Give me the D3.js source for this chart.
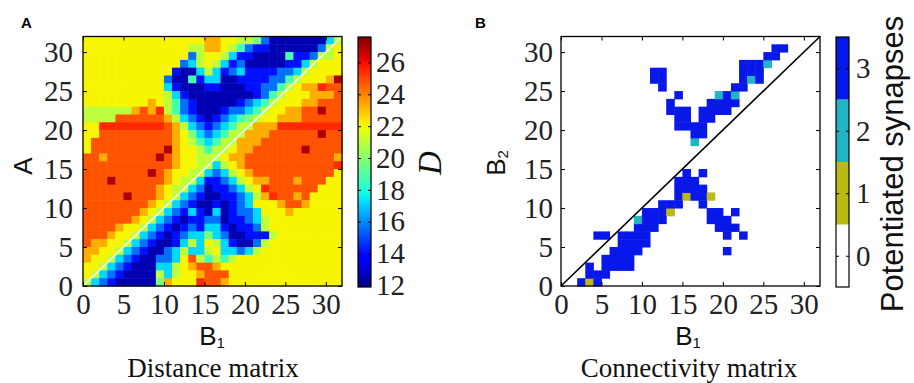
<!DOCTYPE html>
<html>
<head>
<meta charset="utf-8">
<script src="https://cdn.jsdelivr.net/npm/d3@7"></script>
<style>
  body { margin: 0; background: #ffffff; }
  svg { display: block; background: #ffffff; }
</style>
</head>
<body>
<svg id="chart" width="914" height="383"></svg>
<script>
// ---- data ----
const gridSize = 32;
const axisTicks = [0, 5, 10, 15, 20, 25, 30];
const distanceTicks = [12, 14, 16, 18, 20, 22, 24, 26];
const distanceRange = [11.9, 27.6];
const synapseTicks = [0, 1, 2, 3];
const synapseColors = ["#ffffff", "#bcb814", "#22b4c4", "#0818e8"];

// colour levels used in the distance matrix (value of D)
const levelValues = { N: 12.6, B: 14.1, b: 15.6, C: 17.2, c: 18.7, g: 19.8, l: 21.0, Y: 22.1, y: 23.3, O: 24.8, R: 25.5, D: 27.0 };

// distance matrix, one string per row of A, top row (A = 31) first, columns B1 = 0..31
const distanceRows = [
  "YYYYYYYYYYYYYYYyyYYllgbNNNNNNNCl",
  "YYYYYYYYYYYYYllyyYlcbBBNNNNNNblY",
  "YYYYYYYYYYYYYblYYlCBBNNNNcBBbllY",
  "YYYYYYYYYYYYbClYlCBbNNNNNBBClYYY",
  "YYYYYYYYYYYBNNClCBbCBBBBbbClYYYY",
  "YYYYYYYYYYbNNcBCCNNBBBBbbclYYYyD",
  "YYYYYYYYYYCBNNNBBNNNBBbbclYyyROO",
  "YYYYYYYYYYlCBNNNNNNNNBbclYYYyyyO",
  "YYYYYYYYyYlcbBNNNNNBbCclYYYyyOOO",
  "llllllyOyRlcbBNNNBbbCclYYyyOODOO",
  "llllOOOOOOylCbBNBbCcglYYyyyOOOOO",
  "YYRRRRRRRROylCbBbCcllyyyRRRRRRRR",
  "YYOOOOOOOOOyYgCbCcllyyyOOOOOODOO",
  "YOOOOOOOOOOyYlcCcllyyyOOOOOOOOOO",
  "YOOOOOOOOODyYYlcllYyyOOOOOODOOOO",
  "OOyOOOOOODOyYYlllYyyOOOOOOOOOOOy",
  "OOOOOOOOOOOyYYllClYyOOOOOOOOOOOR",
  "OOOOOOOODOyYYllCbClYyOOOOOOOOOOY",
  "OOODOOOOOOyYllCBBbClYyyOOOyOOOYY",
  "OOOOOOOOOyYllCbNBBbClYROOOOOOYYY",
  "OOOOODOOOyYlCbBNNBBbClyROOyOYYYY",
  "OOOOOOOOyYlCbBNNBNBbCYYYyOOyYYYY",
  "OOOOOOOyYlCbBCBNCNBbbCYYYyYYYYYY",
  "OOOOOOyYlCbBNBBbbNBBbClYYYYYYYYY",
  "OOOOyYYlCbBNBbBCCBNBBblYYYYYYYYY",
  "OOOyYYlCbBNBbCCgCbNNBBBlYYYYYYYY",
  "OyyYYlCbBNNBClCYlCBNNblYYYYYYYYY",
  "yyYYlCbBNNbClCClYCCbClYYYYYYYYYY",
  "yYYlCbBNNbbCYOlclclYYYYYYYYYYYYY",
  "YYlCbBNNNCClYyOOyYYYYYYYYYYYYYYY",
  "YlCbBNNNNlClYYyOOOYYYYYYYYYYYYYY",
  "lCbBNNNNNgyYYYROOyYYYYYYYYYYYYYY"
];

// connectivity matrix: [B1, B2, potentiated synapses] for every non-empty cell
const synapseCells = [
  [2,0,3],[3,0,1],[4,0,3],
  [3,1,3],[4,1,3],[5,1,3],
  [3,2,3],[5,2,3],[6,2,3],[7,2,3],[8,2,3],
  [5,3,3],[6,3,3],[7,3,3],[8,3,3],
  [6,4,3],[7,4,3],[8,4,3],[9,4,3],[20,4,3],
  [7,5,3],[8,5,3],[9,5,3],[10,5,3],
  [4,6,3],[5,6,3],[7,6,3],[8,6,3],[9,6,3],[10,6,3],[20,6,3],[22,6,3],
  [9,7,3],[10,7,3],[11,7,3],[19,7,3],[20,7,3],[21,7,3],
  [9,8,2],[10,8,3],[11,8,3],[12,8,3],[18,8,3],[19,8,3],[20,8,3],
  [10,9,3],[11,9,3],[12,9,3],[13,9,1],[18,9,3],[19,9,3],[21,9,3],
  [12,10,3],[13,10,3],[14,10,3],[17,10,3],
  [14,11,3],[15,11,1],[16,11,3],[17,11,3],[18,11,1],
  [14,12,3],[15,12,3],[16,12,3],[17,12,3],
  [14,13,3],[15,13,3],[16,13,3],
  [15,14,3],[17,14,3],
  [16,18,2],
  [16,19,3],[17,19,3],
  [14,20,3],[15,20,3],[16,20,3],[17,20,3],
  [14,21,3],[15,21,3],[17,21,3],[18,21,3],
  [13,22,3],[14,22,3],[15,22,3],[17,22,3],[18,22,3],[19,22,3],[20,22,3],
  [13,23,3],[18,23,3],[19,23,3],[20,23,3],[21,23,3],
  [14,24,3],[19,24,2],[20,24,3],[21,24,2],
  [12,25,3],[21,25,3],[22,25,3],
  [11,26,3],[12,26,3],[22,26,3],[23,26,2],[24,26,3],
  [11,27,3],[12,27,3],[22,27,3],[23,27,3],[24,27,3],
  [22,28,3],[23,28,3],[24,28,3],[25,28,2],
  [25,29,3],[26,29,3],
  [26,30,3],[27,30,3]
];

// ---- drawing ----
const svg = d3.select("#chart");
const serif = '"Liberation Serif", "DejaVu Serif", serif';
const sans = '"Liberation Sans", Arial, sans-serif';
const tickFont = 29;
const plotTop = 36.5, plotBottom = 286;

// matplotlib "jet" segment data
const jetR = d3.scaleLinear().domain([0, 0.35, 0.66, 0.89, 1]).range([0, 0, 1, 1, 0.5]).clamp(true);
const jetG = d3.scaleLinear().domain([0, 0.125, 0.375, 0.64, 0.91, 1]).range([0, 0, 1, 1, 0, 0]).clamp(true);
const jetB = d3.scaleLinear().domain([0, 0.11, 0.34, 0.65, 1]).range([0.5, 1, 1, 0, 0]).clamp(true);
function jet(t) {
  return d3.rgb(jetR(t) * 255, jetG(t) * 255, jetB(t) * 255).formatHex();
}
const distanceNorm = d3.scaleLinear().domain(distanceRange).range([0, 1]).clamp(true);

function styleTickText(sel) {
  sel.selectAll("text")
    .style("font-family", serif)
    .style("font-size", tickFont + "px")
    .style("fill", "#222");
  sel.selectAll("line").attr("stroke", "#000");
  sel.select(".domain").remove();
}

function drawFrame(x, y, labelPad) {
  const g = svg.append("g");
  g.append("g").attr("transform", "translate(0," + plotBottom + ")")
    .call(d3.axisBottom(x).tickValues(axisTicks).tickSize(-4).tickPadding(7))
    .call(styleTickText);
  g.append("g").attr("transform", "translate(0," + plotTop + ")")
    .call(d3.axisTop(x).tickValues(axisTicks).tickSize(-4).tickFormat(""))
    .call(styleTickText);
  g.append("g").attr("transform", "translate(" + x.range()[0] + ",0)")
    .call(d3.axisLeft(y).tickValues(axisTicks).tickSize(-4).tickPadding(labelPad))
    .call(styleTickText);
  g.append("g").attr("transform", "translate(" + x.range()[1] + ",0)")
    .call(d3.axisRight(y).tickValues(axisTicks).tickSize(-4).tickFormat(""))
    .call(styleTickText);
  g.append("rect")
    .attr("x", x.range()[0]).attr("y", plotTop)
    .attr("width", x.range()[1] - x.range()[0]).attr("height", plotBottom - plotTop)
    .attr("fill", "none").attr("stroke", "#000").attr("stroke-width", 1.3);
}

function subLabel(parent, text, sub, attrs) {
  const t = parent.append("text")
    .style("font-family", sans).style("font-size", "26px").style("fill", "#111")
    .attr("text-anchor", "middle");
  Object.keys(attrs).forEach(k => t.attr(k, attrs[k]));
  t.append("tspan").text(text);
  t.append("tspan").text(sub).attr("dy", 3).style("font-size", "15px");
  return t;
}

// ===== Panel A: distance matrix =====
const xA = d3.scaleLinear().domain([0, gridSize]).range([83, 342]);
const yA = d3.scaleLinear().domain([0, gridSize]).range([plotBottom, plotTop]);

const cellsA = [];
distanceRows.forEach((rowStr, i) => {
  const row = gridSize - 1 - i;
  rowStr.split("").forEach((ch, col) => {
    cellsA.push({ col: col, row: row, value: levelValues[ch] });
  });
});

svg.append("g").selectAll("rect").data(cellsA).join("rect")
  .attr("x", d => xA(d.col))
  .attr("y", d => yA(d.row + 1))
  .attr("width", xA(1) - xA(0) + 0.5)
  .attr("height", yA(0) - yA(1) + 0.5)
  .attr("fill", d => jet(distanceNorm(d.value)));

svg.append("line")
  .attr("x1", xA(0)).attr("y1", yA(0)).attr("x2", xA(gridSize)).attr("y2", yA(gridSize))
  .attr("stroke", "#f6f6f6").attr("stroke-width", 1.6);

drawFrame(xA, yA, 10);

// colorbar A
const cbA = { left: 358, right: 371 };
const cyA = d3.scaleLinear().domain(distanceRange).range([287, 37]);
const grad = svg.append("defs").append("linearGradient")
  .attr("id", "jetGrad").attr("x1", 0).attr("y1", 1).attr("x2", 0).attr("y2", 0);
d3.range(0, 1.0001, 0.02).forEach(t => {
  grad.append("stop").attr("offset", t).attr("stop-color", jet(t));
});
svg.append("rect")
  .attr("x", cbA.left).attr("y", cyA(distanceRange[1]))
  .attr("width", cbA.right - cbA.left).attr("height", cyA(distanceRange[0]) - cyA(distanceRange[1]))
  .attr("fill", "url(#jetGrad)").attr("stroke", "#000").attr("stroke-width", 1.2);
svg.append("g").attr("transform", "translate(" + cbA.right + ",0)")
  .call(d3.axisRight(cyA).tickValues(distanceTicks).tickSize(-3).tickPadding(5))
  .call(styleTickText);
svg.append("g").attr("transform", "translate(" + cbA.left + ",0)")
  .call(d3.axisLeft(cyA).tickValues(distanceTicks).tickSize(-3).tickFormat(""))
  .call(styleTickText);

svg.append("text")
  .attr("transform", "translate(441,163) rotate(-90)")
  .attr("text-anchor", "middle")
  .style("font-family", serif).style("font-style", "italic").style("font-size", "33px").style("fill", "#111")
  .text("D");

// labels A
svg.append("text")
  .attr("transform", "translate(32,166) rotate(-90)")
  .attr("text-anchor", "middle")
  .style("font-family", sans).style("font-size", "26px").style("fill", "#111")
  .text("A");
subLabel(svg, "B", "1", { x: 212, y: 345 });
svg.append("text").attr("x", 213).attr("y", 377).attr("text-anchor", "middle")
  .style("font-family", serif).style("font-size", "27px").style("fill", "#111")
  .text("Distance matrix");
svg.append("text").attr("x", 21).attr("y", 28)
  .style("font-family", sans).style("font-weight", "bold").style("font-size", "15px").style("fill", "#000")
  .text("A");

// ===== Panel B: connectivity matrix =====
const xB = d3.scaleLinear().domain([0, gridSize]).range([561, 820]);
const yB = d3.scaleLinear().domain([0, gridSize]).range([plotBottom, plotTop]);

svg.append("g").selectAll("rect").data(synapseCells).join("rect")
  .attr("x", d => xB(d[0]))
  .attr("y", d => yB(d[1] + 1))
  .attr("width", xB(1) - xB(0) + 0.5)
  .attr("height", yB(0) - yB(1) + 0.5)
  .attr("fill", d => synapseColors[d[2]]);

svg.append("line")
  .attr("x1", xB(0)).attr("y1", yB(0)).attr("x2", xB(gridSize)).attr("y2", yB(gridSize))
  .attr("stroke", "#000").attr("stroke-width", 1.6);

drawFrame(xB, yB, 8);

// colorbar B
const cbB = { left: 836, right: 849 };
const cyB = d3.scaleLinear().domain([-0.5, 3.5]).range([287, 37]);
svg.append("g").selectAll("rect").data(synapseTicks).join("rect")
  .attr("x", cbB.left).attr("y", d => cyB(d + 0.5))
  .attr("width", cbB.right - cbB.left).attr("height", d => cyB(d - 0.5) - cyB(d + 0.5))
  .attr("fill", d => synapseColors[d]);
svg.append("rect")
  .attr("x", cbB.left).attr("y", cyB(3.5))
  .attr("width", cbB.right - cbB.left).attr("height", cyB(-0.5) - cyB(3.5))
  .attr("fill", "none").attr("stroke", "#000").attr("stroke-width", 1.2);
svg.append("g").attr("transform", "translate(" + cbB.right + ",0)")
  .call(d3.axisRight(cyB).tickValues(synapseTicks).tickFormat(d3.format("d")).tickSize(-3).tickPadding(7))
  .call(styleTickText);
svg.append("g").attr("transform", "translate(" + cbB.left + ",0)")
  .call(d3.axisLeft(cyB).tickValues(synapseTicks).tickSize(-3).tickFormat(""))
  .call(styleTickText);

svg.append("text")
  .attr("transform", "translate(903,164) rotate(-90)")
  .attr("text-anchor", "middle")
  .style("font-family", sans).style("font-size", "31px").style("fill", "#111")
  .text("Potentiated synapses");

// labels B
subLabel(svg, "B", "2", { transform: "translate(505,163) rotate(-90)" });
subLabel(svg, "B", "1", { x: 688, y: 345 });
svg.append("text").attr("x", 689).attr("y", 377).attr("text-anchor", "middle")
  .style("font-family", serif).style("font-size", "27px").style("fill", "#111")
  .text("Connectivity matrix");
svg.append("text").attr("x", 475).attr("y", 28)
  .style("font-family", sans).style("font-weight", "bold").style("font-size", "15px").style("fill", "#000")
  .text("B");
</script>
</body>
</html>
